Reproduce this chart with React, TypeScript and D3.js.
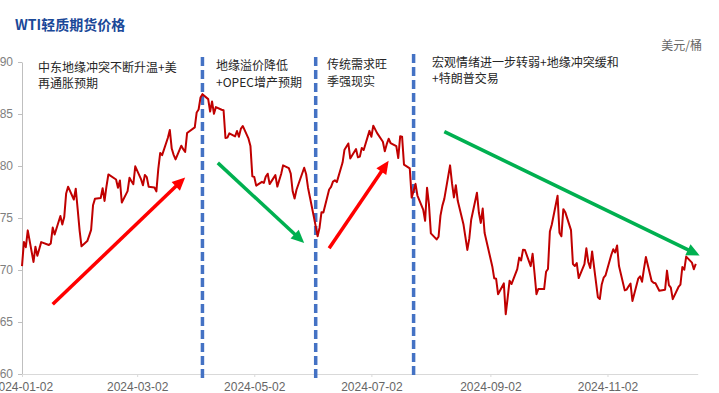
import React, { useEffect, useRef } from 'react';
import * as d3 from 'd3';

const W = 719;
const H = 393;

// trading days (MM-DD, 2024) and WTI settlement, USD/bbl
const tradeDays = [
  '01-02','01-03','01-04','01-05','01-08','01-09','01-10','01-11','01-12','01-16','01-17','01-18','01-19','01-22','01-23','01-24','01-25','01-26','01-29','01-30','01-31',
  '02-01','02-02','02-05','02-06','02-07','02-08','02-09','02-12','02-13','02-14','02-15','02-16','02-20','02-21','02-22','02-23','02-26','02-27','02-28','02-29',
  '03-01','03-04','03-05','03-06','03-07','03-08','03-11','03-12','03-13','03-14','03-15','03-18','03-19','03-20','03-21','03-22','03-25','03-26','03-27','03-28',
  '04-01','04-02','04-03','04-04','04-05','04-08','04-09','04-10','04-11','04-12','04-15','04-16','04-17','04-18','04-19','04-22','04-23','04-24','04-25','04-26','04-29','04-30',
  '05-01','05-02','05-03','05-06','05-07','05-08','05-09','05-10','05-13','05-14','05-15','05-16','05-17','05-20','05-21','05-22','05-23','05-24','05-28','05-29','05-30','05-31',
  '06-03','06-04','06-05','06-06','06-07','06-10','06-11','06-12','06-13','06-14','06-17','06-18','06-20','06-21','06-24','06-25','06-26','06-27','06-28',
  '07-01','07-02','07-03','07-05','07-08','07-09','07-10','07-11','07-12','07-15','07-16','07-17','07-18','07-19','07-22','07-23','07-24','07-25','07-26','07-29','07-30','07-31',
  '08-01','08-02','08-05','08-06','08-07','08-08','08-09','08-12','08-13','08-14','08-15','08-16','08-19','08-20','08-21','08-22','08-23','08-26','08-27','08-28','08-29','08-30',
  '09-03','09-04','09-05','09-06','09-09','09-10','09-11','09-12','09-13','09-16','09-17','09-18','09-19','09-20','09-23','09-24','09-25','09-26','09-27','09-30',
  '10-01','10-02','10-03','10-04','10-07','10-08','10-09','10-10','10-11','10-14','10-15','10-16','10-17','10-18','10-21','10-22','10-23','10-24','10-25','10-28','10-29','10-30','10-31',
  '11-01','11-04','11-05','11-06','11-07','11-08','11-11','11-12','11-13','11-14','11-15','11-18','11-19','11-20','11-21','11-22','11-25','11-26','11-27','11-29',
  '12-02','12-03','12-04','12-05','12-06','12-09','12-10','12-11','12-12','12-13','12-16','12-17','12-18',
];

const wtiClose = [
  70.38,72.70,72.19,73.81,70.77,72.24,71.37,72.02,72.68,72.40,72.56,74.08,73.41,75.19,74.37,75.09,77.36,78.01,76.78,77.82,75.85,
  73.82,72.28,72.78,73.31,73.86,76.22,76.84,76.92,77.87,76.64,78.03,79.19,78.70,77.91,78.61,76.49,77.58,78.87,78.54,78.26,
  79.97,78.74,78.15,79.13,78.93,78.01,77.93,77.56,79.72,81.26,81.04,82.72,83.47,81.68,81.07,80.63,81.95,81.62,81.35,83.17,
  83.71,85.15,85.43,86.59,86.91,86.43,85.23,86.21,85.02,85.66,85.41,85.36,82.69,82.73,83.14,82.85,83.36,82.81,83.57,83.85,82.63,81.93,
  79.00,78.95,78.11,78.48,78.38,78.99,79.26,78.26,79.12,78.02,78.63,79.23,80.06,79.80,79.26,77.57,76.87,77.72,79.83,79.23,77.91,76.99,
  74.22,73.25,74.07,75.55,75.53,77.74,78.00,78.50,78.62,78.45,80.33,81.57,82.17,80.73,81.63,80.83,80.90,81.74,81.54,
  83.38,82.81,83.88,83.16,82.33,81.41,82.10,82.62,82.21,81.91,80.76,82.85,82.82,80.13,79.78,76.96,77.59,78.28,77.16,75.81,74.73,77.91,
  76.31,73.52,72.94,73.20,75.23,76.19,76.84,80.06,78.35,76.98,78.16,76.65,74.37,73.17,71.93,73.01,74.83,77.42,75.53,74.52,75.91,73.55,
  70.34,69.20,69.15,67.67,68.71,65.75,67.31,68.97,68.65,70.09,71.19,70.91,71.95,71.92,70.37,71.56,69.69,67.67,68.18,68.17,
  69.83,70.10,73.71,74.38,77.14,73.57,73.24,75.85,75.56,73.83,70.58,70.39,70.67,69.22,70.56,72.09,70.77,70.19,71.78,67.38,67.21,68.61,69.26,
  69.49,71.47,71.99,71.69,72.36,70.38,68.04,68.12,68.43,68.70,67.02,69.16,69.39,68.87,70.10,71.24,68.94,68.77,68.72,68.00,
  68.10,69.94,68.54,68.30,67.20,68.37,68.59,70.29,70.02,71.29,70.71,70.08,70.58,
];

const yTicks = [60, 65, 70, 75, 80, 85, 90];
const xTickDays = ['2024-01-02', '2024-03-02', '2024-05-02', '2024-07-02', '2024-09-02', '2024-11-02'];
const xDomain = ['2024-01-02', '2024-12-19'];

// dashed dividers between phases
const phaseBreaks = ['2024-04-05', '2024-06-03', '2024-07-24'];

const phaseNotes = [
  ['中东地缘冲突不断升温+美', '再通胀预期'],
  ['地缘溢价降低', '+OPEC增产预期'],
  ['传统需求旺', '季强现实'],
  ['宏观情绪进一步转弱+地缘冲突缓和', '+特朗普交易'],
];

// trend arrows, [date, price] from -> to
const trendArrows = [
  { from: ['2024-01-18', 66.7], to: ['2024-03-27', 78.9], up: true },
  { from: ['2024-04-13', 80.3], to: ['2024-05-28', 72.6], up: false },
  { from: ['2024-06-10', 72.1], to: ['2024-07-11', 80.5], up: true },
  { from: ['2024-08-09', 83.3], to: ['2024-12-20', 71.4], up: false },
];

const CJK = '"Noto Sans CJK SC", "Noto Sans", sans-serif';
const LAT = '"Liberation Sans", Arial, sans-serif';

export default function App() {
  const ref = useRef<SVGSVGElement>(null);

  useEffect(() => {
    const svg = d3.select(ref.current);
    svg.selectAll('*').remove();

    const parse = d3.timeParse('%Y-%m-%d');
    const x = d3.scaleTime()
      .domain(xDomain.map(d => parse(d)))
      .range([22, 697.7]);
    const y = d3.scaleLinear()
      .domain([60, 90])
      .range([374, 62]);

    const data = tradeDays.map((d, i) => ({ date: parse('2024-' + d), v: wtiClose[i] }));

    // title + unit
    svg.append('text')
      .attr('x', 15).attr('y', 24)
      .attr('dominant-baseline', 'central')
      .attr('font-family', CJK)
      .attr('font-weight', 'bold')
      .attr('font-size', 14)
      .attr('fill', '#1a4898')
      .text('WTI轻质期货价格');

    svg.append('text')
      .attr('x', 702).attr('y', 44)
      .attr('dominant-baseline', 'central')
      .attr('text-anchor', 'end')
      .attr('font-family', CJK)
      .attr('font-size', 12)
      .attr('fill', '#666')
      .text('美元/桶');

    // axes
    const yAxis = svg.append('g')
      .attr('transform', `translate(${x(parse(xDomain[0]))},0)`)
      .call(d3.axisLeft(y).tickValues(yTicks).tickSize(4).tickSizeOuter(0).tickPadding(5));
    yAxis.select('.domain').attr('stroke', '#bfbfbf');
    yAxis.selectAll('.tick line').attr('stroke', '#bfbfbf');
    yAxis.selectAll('.tick text')
      .attr('font-family', LAT)
      .attr('font-size', 12)
      .attr('fill', '#7f7f7f');

    const xAxis = svg.append('g')
      .attr('transform', `translate(0,${y(60)})`)
      .call(d3.axisBottom(x)
        .tickValues(xTickDays.map(d => parse(d)))
        .tickFormat(d3.timeFormat('%Y-%m-%d'))
        .tickSize(3).tickSizeOuter(0).tickPadding(5));
    xAxis.select('.domain').attr('stroke', '#d9d9d9');
    xAxis.selectAll('.tick line').attr('stroke', '#d9d9d9');
    xAxis.selectAll('.tick text')
      .attr('font-family', LAT)
      .attr('font-size', 12)
      .attr('fill', '#666');

    // phase dividers
    svg.selectAll('.phase')
      .data(phaseBreaks)
      .enter()
      .append('line')
      .attr('class', 'phase')
      .attr('x1', d => x(parse(d)))
      .attr('x2', d => x(parse(d)))
      .attr('y1', (d, i) => y(90) - (i === 2 ? 8 : 5))
      .attr('y2', (d, i) => y(60) + (i === 2 ? 2 : 6))
      .attr('stroke', '#4472c4')
      .attr('stroke-width', 3.5)
      .attr('stroke-dasharray', '9 4');

    // price line
    const line = d3.line<any>()
      .x(d => x(d.date))
      .y(d => y(d.v));
    svg.append('path')
      .datum(data)
      .attr('d', line)
      .attr('fill', 'none')
      .attr('stroke', '#c00000')
      .attr('stroke-width', 2)
      .attr('stroke-linejoin', 'round');

    // notes
    const noteX = [38, 216, 327, 432];
    const noteY = [66, 64.5, 63.5, 61];
    phaseNotes.forEach((lines, i) => {
      const t = svg.append('text')
        .attr('font-family', CJK)
        .attr('font-size', 12)
        .attr('fill', '#262626');
      lines.forEach((s, j) => {
        t.append('tspan')
          .attr('x', noteX[i])
          .attr('y', noteY[i] + j * 16.5)
          .attr('dominant-baseline', 'central')
          .text(s);
      });
    });

    // trend arrows
    trendArrows.forEach(a => {
      const x0 = x(parse(a.from[0] as string)), y0 = y(a.from[1] as number);
      const x1 = x(parse(a.to[0] as string)), y1 = y(a.to[1] as number);
      const color = a.up ? '#ff0000' : '#00b050';
      const len = Math.hypot(x1 - x0, y1 - y0);
      const ux = (x1 - x0) / len, uy = (y1 - y0) / len;
      const hl = 13, hw = 6;
      const bx = x1 - ux * hl, by = y1 - uy * hl;
      svg.append('line')
        .attr('x1', x0).attr('y1', y0)
        .attr('x2', bx + ux * 2).attr('y2', by + uy * 2)
        .attr('stroke', color)
        .attr('stroke-width', 3.5);
      svg.append('polygon')
        .attr('points', [
          [x1, y1],
          [bx - uy * hw, by + ux * hw],
          [bx + uy * hw, by - ux * hw],
        ].map(p => p.join(',')).join(' '))
        .attr('fill', color);
    });
  }, []);

  return (
    <svg
      ref={ref}
      width={W}
      height={H}
      style={{ position: 'absolute', left: 0, top: 0, background: '#fff' }}
    />
  );
}
